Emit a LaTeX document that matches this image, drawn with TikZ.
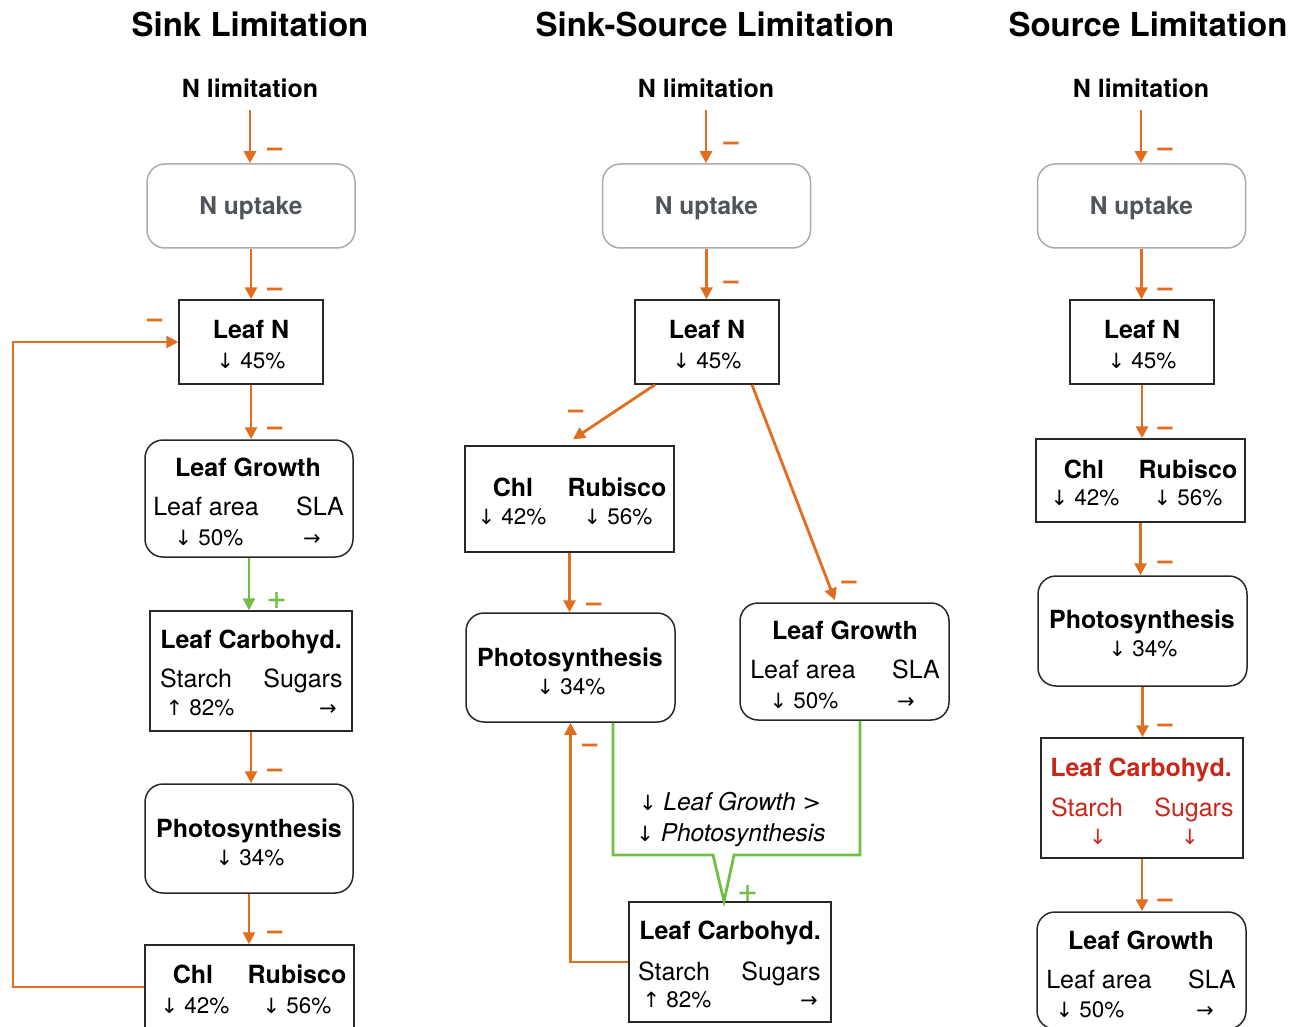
\documentclass[tikz,border=0pt]{standalone}
\usepackage{fontspec}
\setmainfont{TeX Gyre Heros}
\newfontfamily\arrf{DejaVu Sans}
\usetikzlibrary{arrows.meta}
\definecolor{oc}{RGB}{224,110,30}
\definecolor{gc}{RGB}{112,190,70}
\definecolor{rc}{RGB}{200,40,25}
\definecolor{bc}{RGB}{40,40,40}
\definecolor{gb}{RGB}{170,172,175}
\definecolor{gt}{RGB}{80,85,92}
\newcommand\dnar{{\arrf\fontsize{21}{22}\selectfont ↓}}
\newcommand\upar{{\arrf\fontsize{21}{22}\selectfont ↑}}
\newcommand\rtar{{\arrf\fontsize{21}{22}\selectfont →}}
\tikzset{
  ttl/.style={font=\bfseries\fontsize{33}{36}\selectfont, anchor=base, inner sep=0pt},
  nl/.style={font=\bfseries\fontsize{25}{26}\selectfont, anchor=base, inner sep=12pt},
  lab/.style={font=\bfseries\fontsize{25}{26}\selectfont, anchor=base, inner sep=0pt},
  txt/.style={font=\fontsize{25}{26}\selectfont, anchor=base, inner sep=0pt},
  val/.style={font=\fontsize{22.5}{24}\selectfont, anchor=base, inner sep=0pt},
  gtx/.style={font=\bfseries\fontsize{24.5}{26}\selectfont, anchor=base, inner sep=0pt, text=gt},
  itx/.style={font=\itshape\fontsize{24.5}{26}\selectfont, anchor=base, inner sep=0pt},
  sbox/.style={draw=bc, line width=1.5pt, inner sep=0pt},
  rbox/.style={draw=bc, line width=1.5pt, inner sep=0pt, rounded corners=18pt},
  gbox/.style={draw=gb, line width=1.5pt, inner sep=0pt, rounded corners=18pt, minimum width=208pt, minimum height=84pt},
  oarr/.style={draw=oc, line width=2.8pt, -{Triangle[length=12pt,width=12pt]}},
  garr/.style={draw=gc, line width=2.8pt, -{Triangle[length=12pt,width=12pt]}},
  gline/.style={draw=gc, line width=2.8pt, line join=miter},
  mns/.style={text=oc, font=\bfseries\fontsize{27}{27}\selectfont, anchor=base, inner sep=0pt},
  pls/.style={text=gc, font=\fontsize{36}{36}\selectfont, anchor=base, inner sep=0pt},
}
\begin{document}
\begin{tikzpicture}[x=1pt,y=-1pt]
\useasboundingbox (0,0) rectangle (1307,1027);
\clip (0,0) rectangle (1307,1027);
\fill[white] (0,0) rectangle (1307,1027);

% ===== Column 1: Sink Limitation =====
\node[ttl] (t1) at (250,37) {Sink Limitation};
\node[nl] (nl1) at (250,98) {N limitation};
\node[gbox] (nu1) at (251,206) {};
\node[gtx] (nu1t) at (251,215) {N uptake};
\node[sbox, minimum width=144pt, minimum height=84pt] (ln1) at (251,342) {};
\node[lab] (ln1a) at (251,338) {Leaf N};
\node[val] (ln1b) at (251,368) {\dnar\ 45\%};
\node[rbox, minimum width=208pt, minimum height=117pt] (lg1) at (249,498.5) {};
\node[lab] (lg1a) at (248,476) {Leaf Growth};
\node[txt] (lg1b) at (206,515) {Leaf area};
\node[txt] (lg1c) at (320,515) {SLA};
\node[val] (lg1d) at (209,545) {\dnar\ 50\%};
\node[val] (lg1e) at (312,545) {\rtar};
\node[sbox, minimum width=202pt, minimum height=120pt] (lc1) at (251,671) {};
\node[lab] (lc1a) at (251,648) {Leaf Carbohyd.};
\node[txt] (lc1b) at (196,687) {Starch};
\node[txt] (lc1c) at (303,687) {Sugars};
\node[val] (lc1d) at (200,715) {\upar\ 82\%};
\node[val] (lc1e) at (328,715) {\rtar};
\node[rbox, minimum width=208pt, minimum height=109pt] (ph1) at (249,838.5) {};
\node[lab] (ph1a) at (249,837) {Photosynthesis};
\node[val] (ph1b) at (250,865) {\dnar\ 34\%};
\node[sbox, minimum width=209pt, minimum height=84pt] (cr1) at (249.5,987) {};
\node[lab] (cr1a) at (193,983) {Chl};
\node[lab] (cr1b) at (297,983) {Rubisco};
\node[val] (cr1c) at (195,1013) {\dnar\ 42\%};
\node[val] (cr1d) at (297,1013) {\dnar\ 56\%};
\coordinate (fb1) at (13,987);

\draw[oarr] (nl1.south) -- (nl1.south |- nu1.north);
\draw[oarr] (nu1.south) -- (nu1.south |- ln1.north);
\draw[oarr] (ln1.south) -- (ln1.south |- lg1.north);
\draw[garr] (lg1.south) -- (lg1.south |- lc1.north);
\draw[oarr] (lc1.south) -- (lc1.south |- ph1.north);
\draw[oarr] (ph1.south) -- (ph1.south |- cr1.north);
\draw[oarr] (cr1.west) -- (fb1) |- (ln1.west);

\node[mns] (m11) at (275,157) {–};
\node[mns] (m12) at (275,297) {–};
\node[mns] (m13) at (275,435) {–};
\node[pls] (p11) at (277,609) {+};
\node[mns] (m14) at (275,777) {–};
\node[mns] (m15) at (275,939) {–};
\node[mns] (m16) at (155,327) {–};

% ===== Column 2: Sink-Source Limitation =====
\node[ttl] (t2) at (715,37) {Sink-Source Limitation};
\node[nl] (nl2) at (706,98) {N limitation};
\node[gbox] (nu2) at (706.5,206) {};
\node[gtx] (nu2t) at (706.5,215) {N uptake};
\node[sbox, minimum width=144pt, minimum height=84pt] (ln2) at (707,342) {};
\node[lab] (ln2a) at (707,338) {Leaf N};
\node[val] (ln2b) at (707,368) {\dnar\ 45\%};
\node[sbox, minimum width=209pt, minimum height=106pt] (cr2) at (569.5,499) {};
\node[lab] (cr2a) at (513,496) {Chl};
\node[lab] (cr2b) at (617,496) {Rubisco};
\node[val] (cr2c) at (512,524) {\dnar\ 42\%};
\node[val] (cr2d) at (618,524) {\dnar\ 56\%};
\node[rbox, minimum width=209pt, minimum height=109pt] (ph2) at (570.5,667.5) {};
\node[lab] (ph2a) at (570,666) {Photosynthesis};
\node[val] (ph2b) at (571,694) {\dnar\ 34\%};
\node[rbox, minimum width=209pt, minimum height=117pt] (lg2) at (844.5,661.5) {};
\node[lab] (lg2a) at (845,639) {Leaf Growth};
\node[txt] (lg2b) at (803,678) {Leaf area};
\node[txt] (lg2c) at (916,678) {SLA};
\node[val] (lg2d) at (804,708) {\dnar\ 50\%};
\node[val] (lg2e) at (906,708) {\rtar};
\node[sbox, minimum width=202pt, minimum height=120pt] (lc2) at (730,962) {};
\node[lab] (lc2a) at (730,939) {Leaf Carbohyd.};
\node[txt] (lc2b) at (674,980) {Starch};
\node[txt] (lc2c) at (781,980) {Sugars};
\node[val] (lc2d) at (677,1007) {\upar\ 82\%};
\node[val] (lc2e) at (809,1007) {\rtar};
\node[itx] (it1) at (730,810) {\upshape\dnar\ \itshape Leaf Growth {\upshape\arrf\fontsize{22}{22}\selectfont >}};
\node[itx] (it2) at (731,841) {\upshape\dnar\ \itshape Photosynthesis};
\coordinate (g1) at (713,855);
\coordinate (g3) at (734,855);

\draw[oarr] (nl2.south) -- (nl2.south |- nu2.north);
\draw[oarr] (nu2.south) -- (nu2.south |- ln2.north);
\draw[oarr] ([xshift=-52pt]ln2.south) -- ([xshift=3.5pt,yshift=6pt]cr2.north);
\draw[oarr] ([xshift=45pt]ln2.south) -- ([xshift=-9.5pt,yshift=2pt]lg2.north);
\draw[oarr] (cr2.south) -- (cr2.south |- ph2.north);
\draw[gline] ([xshift=42.5pt]ph2.south) |- (g1) -- ([xshift=-6pt]lc2.north) -- (g3) -| ([xshift=15.5pt]lg2.south);
\draw[oarr] (lc2.west) -| (ph2.south);

\node[mns] (m21) at (731,151) {–};
\node[mns] (m22) at (731,289) {–};
\node[mns] (m23) at (576,418) {–};
\node[mns] (m24) at (849,589) {–};
\node[mns] (m25) at (594,611) {–};
\node[mns] (m26) at (590,752) {–};
\node[pls] (p21) at (748,902) {+};

% ===== Column 3: Source Limitation =====
\node[ttl] (t3) at (1148,37) {Source Limitation};
\node[nl] (nl3) at (1141,98) {N limitation};
\node[gbox] (nu3) at (1141.5,206) {};
\node[gtx] (nu3t) at (1141.5,215) {N uptake};
\node[sbox, minimum width=144pt, minimum height=84pt] (ln3) at (1142,342) {};
\node[lab] (ln3a) at (1142,338) {Leaf N};
\node[val] (ln3b) at (1142,368) {\dnar\ 45\%};
\node[sbox, minimum width=209pt, minimum height=83pt] (cr3) at (1140.5,480.5) {};
\node[lab] (cr3a) at (1084,478) {Chl};
\node[lab] (cr3b) at (1188,478) {Rubisco};
\node[val] (cr3c) at (1085,505) {\dnar\ 42\%};
\node[val] (cr3d) at (1188,505) {\dnar\ 56\%};
\node[rbox, minimum width=209pt, minimum height=110pt] (ph3) at (1142.5,631) {};
\node[lab] (ph3a) at (1142,628) {Photosynthesis};
\node[val] (ph3b) at (1143,656) {\dnar\ 34\%};
\node[sbox, minimum width=202pt, minimum height=120pt] (lc3) at (1142,798) {};
\node[lab, text=rc] (lc3a) at (1141,776) {Leaf Carbohyd.};
\node[txt, text=rc] (lc3b) at (1087,816) {Starch};
\node[txt, text=rc] (lc3c) at (1194,816) {Sugars};
\node[val, text=rc] (lc3d) at (1098,844) {\dnar};
\node[val, text=rc] (lc3e) at (1190,844) {\dnar};
\node[rbox, minimum width=209pt, minimum height=117pt] (lg3) at (1141.5,970.5) {};
\node[lab] (lg3a) at (1141,949) {Leaf Growth};
\node[txt] (lg3b) at (1099,988) {Leaf area};
\node[txt] (lg3c) at (1212,988) {SLA};
\node[val] (lg3d) at (1090,1017) {\dnar\ 50\%};
\node[val] (lg3e) at (1205,1017) {\rtar};

\draw[oarr] (nl3.south) -- (nl3.south |- nu3.north);
\draw[oarr] (nu3.south) -- (nu3.south |- ln3.north);
\draw[oarr] (ln3.south) -- (ln3.south |- cr3.north);
\draw[oarr] (cr3.south) -- (cr3.south |- ph3.north);
\draw[oarr] (ph3.south) -- (ph3.south |- lc3.north);
\draw[oarr] (lc3.south) -- (lc3.south |- lg3.north);

\node[mns] (m31) at (1165,157) {–};
\node[mns] (m32) at (1165,297) {–};
\node[mns] (m33) at (1165,435) {–};
\node[mns] (m34) at (1165,569) {–};
\node[mns] (m35) at (1165,732) {–};
\node[mns] (m36) at (1165,907) {–};
\end{tikzpicture}
\end{document}
